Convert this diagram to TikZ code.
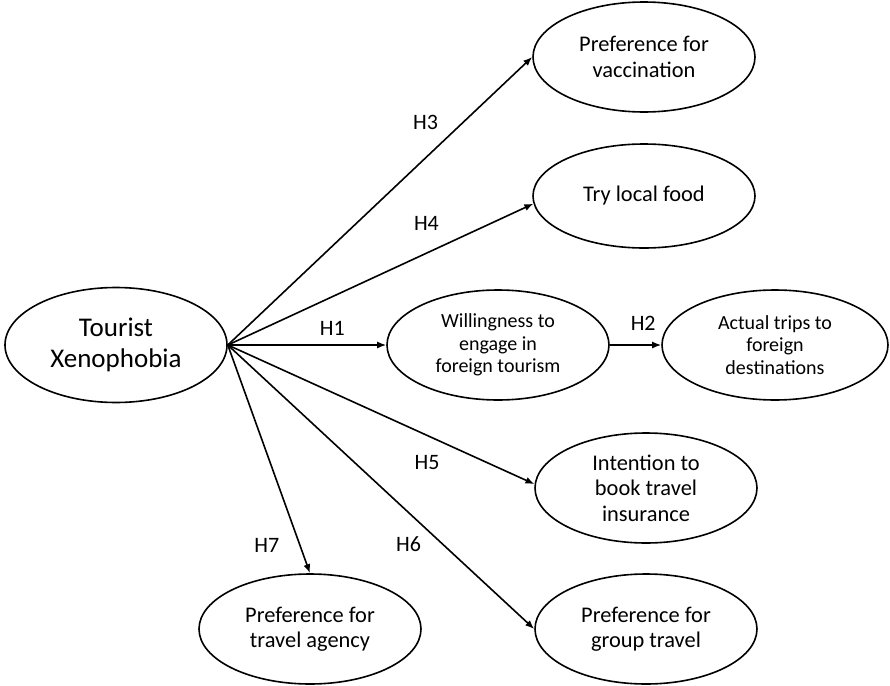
\documentclass[tikz,border=0pt]{standalone}
\usepackage{fontspec}
\setmainfont{Carlito}
\usetikzlibrary{arrows.meta, shapes.geometric, positioning}

\begin{document}
\begin{tikzpicture}[
        node distance = 3cm, on grid, line width = 0.8pt,
        >= {Latex[length = 4.5pt, width = 3.5pt]},
        construct/.style = {ellipse, draw, minimum width = 111pt, minimum height = 55pt,
            inner sep = 0pt, align = center, font = \fontsize{11.2}{12.7}\selectfont},
        small text/.style = {font = \fontsize{10}{11.3}\selectfont},
        hyp/.style = {font = \fontsize{11}{13}\selectfont, inner sep = 0pt}
    ]
        \useasboundingbox (0,0) rectangle (445pt,-343pt);

        \node[construct, minimum height = 57.5pt, font = \fontsize{13.5}{15.5}\selectfont] (xeno) at (58pt,-172.5pt) {Tourist\\Xenophobia};
        \node[construct, small text] (willing) [right = 191pt of xeno] {Willingness to\\engage in\\foreign tourism};
        \node[construct, small text, minimum width = 113pt] (trips) [right = 138.5pt of willing] {Actual trips to\\foreign\\destinations};
        \node[construct] (vaccine) [above right = 144pt and 264pt of xeno] {Preference for\\vaccination};
        \node[construct, minimum height = 52pt] (food) [above right = 74.5pt and 264pt of xeno] {Try local food};
        \node[construct] (insurance) [below right = 71.5pt and 265pt of xeno] {Intention to\\book travel\\insurance};
        \node[construct] (group) [below right = 142pt and 265pt of xeno] {Preference for\\group travel};
        \node[construct] (agency) [below right = 142pt and 97pt of xeno] {Preference for\\travel agency};

        \path[->]
          (xeno.east) edge node[hyp, pos = .65, yshift = 17.5pt] (h3) {H3} (vaccine.west)
          (xeno.east) edge node[hyp, pos = .65, yshift = 15pt] (h4) {H4} (food.184)
          (xeno.east) edge node[hyp, pos = .66, yshift = 8.5pt] (h1) {H1} (willing.west)
          (willing.east) edge node[hyp, pos = .65, yshift = 11pt] (h2) {H2} (trips.west)
          (xeno.east) edge node[hyp, pos = .65, yshift = -13.5pt] (h5) {H5} (insurance.178)
          (xeno.east) edge node[hyp, pos = .59, yshift = -16pt] (h6) {H6} (group.west)
          (xeno.east) edge node[hyp, pos = .877, xshift = -16.5pt] (h7) {H7} (agency.north);
    \end{tikzpicture}
\end{document}
